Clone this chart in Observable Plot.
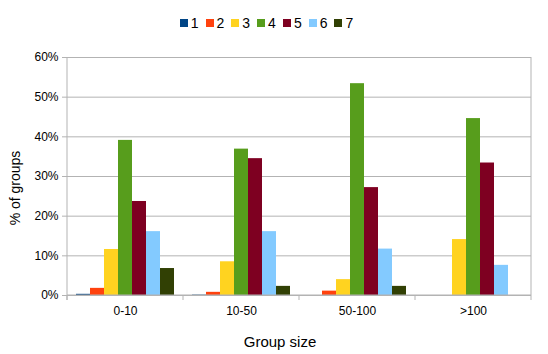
<!DOCTYPE html>
<html><head><meta charset="utf-8">
<script src="https://cdn.jsdelivr.net/npm/d3@7"></script>
<script src="https://cdn.jsdelivr.net/npm/@observablehq/plot@0.6"></script>
<style>
body{margin:0;background:#fff;font-family:"Liberation Sans",Arial,sans-serif;}
#legend{height:40px;display:flex;justify-content:center;align-items:center;padding-right:8px;padding-top:6px;box-sizing:border-box;}
#legend div{margin:0 !important;}
#legend span{margin-right:7px !important;}
#legend svg{margin-right:3px !important;}
</style></head><body>
<div id="legend"></div>
<div id="chart"></div>
<script>
const groups = ["0-10", "10-50", "50-100", ">100"];
const series = ["1", "2", "3", "4", "5", "6", "7"];
const colors = ["#004586", "#ff420e", "#ffd320", "#579d1c", "#7e0021", "#83caff", "#314004"];
const s1 = [0.3, 0.1, 0, 0];
const s2 = [1.8, 0.8, 1.1, 0];
const s3 = [11.6, 8.5, 4.0, 14.1];
const s4 = [39.1, 36.9, 53.4, 44.6];
const s5 = [23.7, 34.5, 27.2, 33.4];
const s6 = [16.1, 16.1, 11.7, 7.6];
const s7 = [6.8, 2.3, 2.3, 0];
const yTicks = [0, 10, 20, 30, 40, 50, 60];

const seriesValues = [s1, s2, s3, s4, s5, s6, s7];
const data = [];
groups.forEach((g, gi) => series.forEach((s, si) => data.push({group: g, series: s, value: seriesValues[si][gi]})));

const grid = "#b3b3b3";
const W = 548, H = 314;
const plot = Plot.plot({
  width: W, height: H,
  marginTop: 17, marginBottom: 59, marginLeft: 67, marginRight: 17,
  style: {fontFamily: "'Liberation Sans', Arial, sans-serif", fontSize: "12px", color: "#000", background: "#fff"},
  fx: {domain: groups, padding: 0, label: null},
  x: {domain: series, paddingInner: 0, paddingOuter: 0.5, axis: null},
  y: {domain: [0, 60], ticks: yTicks, label: null},
  color: {domain: series, range: colors},
  marks: [
    Plot.gridY(yTicks, {stroke: grid, strokeOpacity: 1}),
    Plot.barY(data, {fx: "group", x: "series", y: "value", fill: "series", inset: 0}),
    Plot.axisY(yTicks, {tickSize: 5, tickPadding: 4, stroke: grid, tickFormat: d => d + "%", fontSize: 12, label: null}),
    Plot.axisFx({anchor: "bottom", tickSize: 0, tickPadding: 11, fontSize: 12, label: null}),
  ]
});

// axis lines and group boundary ticks using the plot's own scales
const fx = plot.scale("fx"), y = plot.scale("y");
const svg = d3.select(plot);
const y0 = y.apply(0), yTop = y.apply(60);
const xl = fx.apply(groups[0]), xr = fx.apply(groups[groups.length - 1]) + fx.bandwidth;
const g = svg.append("g").attr("stroke", grid).attr("fill", "none");
g.append("line").attr("x1", xl).attr("x2", xl).attr("y1", yTop).attr("y2", y0 + 5);
g.append("line").attr("x1", xr).attr("x2", xr).attr("y1", yTop).attr("y2", y0 + 5);
g.append("line").attr("x1", xl).attr("x2", xr).attr("y1", y0).attr("y2", y0);
groups.forEach(gr => {
  const x = fx.apply(gr);
  g.append("line").attr("x1", x).attr("x2", x).attr("y1", y0).attr("y2", y0 + 5);
});
// axis titles
svg.append("text").text("Group size")
  .attr("x", (xl + xr) / 2 - 19).attr("y", y0 + 52)
  .attr("text-anchor", "middle").attr("font-size", 15).attr("fill", "#000");
svg.append("text").text("% of groups")
  .attr("transform", `translate(15,${(yTop + y0) / 2 + 12}) rotate(-90)`)
  .attr("text-anchor", "middle").attr("font-size", 14).attr("fill", "#000").attr("dy", "0.35em");

document.getElementById("chart").appendChild(plot);
const lg = Plot.legend({
  color: {domain: series, range: colors}, swatchSize: 8, className: "lg",
  style: {fontFamily: "'Liberation Sans', Arial, sans-serif", fontSize: "14px", color: "#000"}
});
document.getElementById("legend").appendChild(lg);
</script></body></html>
